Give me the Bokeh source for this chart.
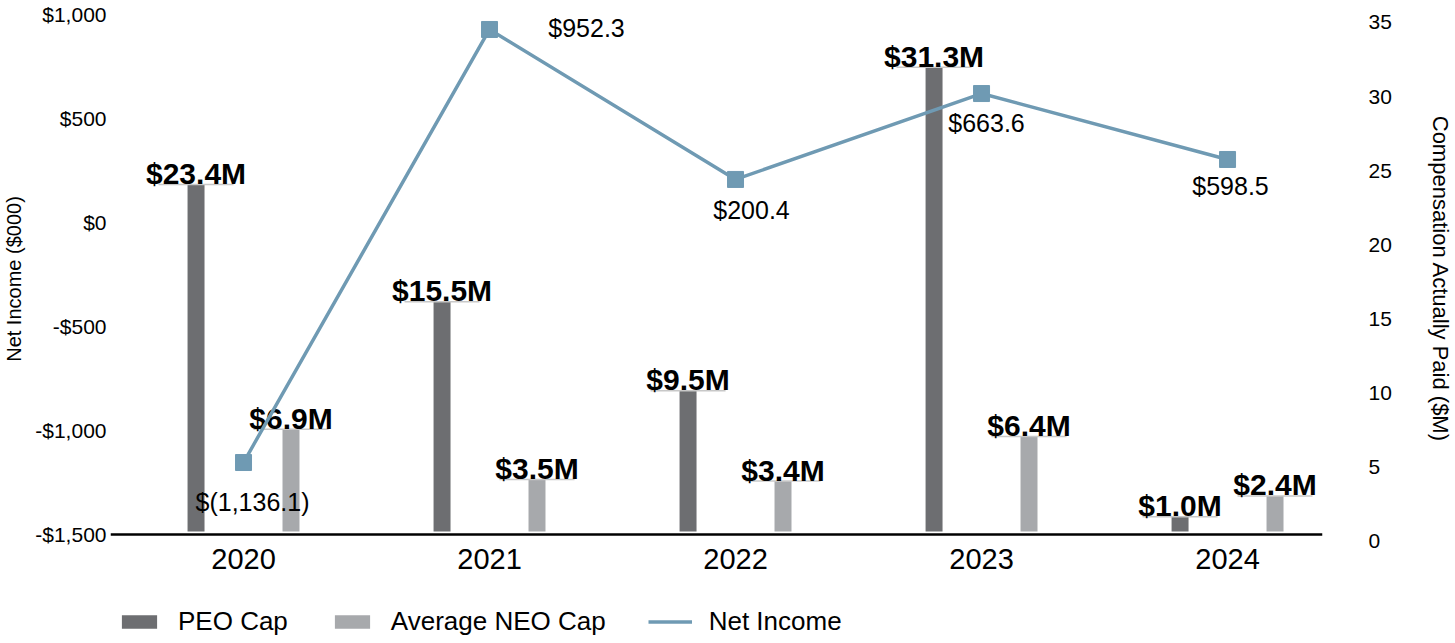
from bokeh.plotting import figure
from bokeh.layouts import column
from bokeh.models import (Range1d, LinearAxis, FixedTicker, Span, Legend,
                          LegendItem, ColumnDataSource)
from bokeh.core.properties import value
from bokeh.embed import file_html
from bokeh.resources import INLINE
import numpy as np

# ---------------- data ----------------
years = ["2020", "2021", "2022", "2023", "2024"]
peo_cap = [23.4, 15.5, 9.5, 31.3, 1.0]          # $M
neo_cap = [6.9, 3.5, 3.4, 6.4, 2.4]             # $M
net_income_labels = [-1136.1, 952.3, 200.4, 663.6, 598.5]   # $000, as labelled
net_income_drawn = [-1154, 928, 207, 620, 303]  # $000, marker heights as drawn in the reference
left_ticks = [-1500, -1000, -500, 0, 500, 1000]
left_tick_text = ["-$1,500", "-$1,000", "-$500", "$0", "$500", "$1,000"]
right_ticks = [0, 5, 10, 15, 20, 25, 30, 35]
series_names = ["PEO Cap", "Average NEO Cap", "Net Income"]

# ---------------- style ----------------
FONT = "Liberation Sans"
PEO_COLOR = "#6d6e71"
NEO_COLOR = "#a7a9ac"
LINE_COLOR = "#6f9ab3"
CAP_COLOR = "#c8c8c8"
BAR_W = 0.069
OFF = 0.193
CAP_W = 0.305
# label offsets (px) for the net income labels
ni_dx = [9, 97, 16, 5, 3]
ni_dy = [39, -1, 31, 29, 27]

x = np.arange(len(years))


def fmt_ni(v):
    return f"$({abs(v):,.1f})" if v < 0 else f"${v:,.1f}"


def no_ticks(ax):
    ax.axis_line_color = None
    ax.major_tick_line_color = None
    ax.minor_tick_line_color = None
    ax.major_tick_out = 0
    ax.major_tick_in = 0
    ax.minor_tick_out = 0
    ax.minor_tick_in = 0


p = figure(frame_width=1212, frame_height=533, output_backend="svg",
           toolbar_location=None,
           x_range=Range1d(-0.5407, 4.386), y_range=Range1d(-1552.9, 1009.6),
           min_border_left=110, min_border_right=133, min_border_top=12,
           min_border_bottom=48)
p.outline_line_color = None
p.xgrid.visible = False
p.ygrid.visible = False
p.background_fill_color = "white"

p.extra_y_ranges = {"bars": Range1d(-0.944, 35.0), "right": Range1d(-0.27, 35.67)}

# x axis (labels only); the baseline line is drawn as a span
xa = p.xaxis[0]
xa.ticker = FixedTicker(ticks=list(x))
xa.major_label_overrides = {int(i): y for i, y in zip(x, years)}
no_ticks(xa)
xa.major_label_standoff = 3
xa.major_label_text_font = FONT
xa.major_label_text_font_size = "29px"
xa.major_label_text_color = "black"

# left axis
ya = p.yaxis[0]
ya.ticker = FixedTicker(ticks=left_ticks)
ya.major_label_overrides = {t: s for t, s in zip(left_ticks, left_tick_text)}
no_ticks(ya)
ya.major_label_standoff = 4
ya.major_label_text_font = FONT
ya.major_label_text_font_size = "21px"
ya.major_label_text_color = "black"
ya.axis_label = "Net Income ($000)"
ya.axis_label_text_font = FONT
ya.axis_label_text_font_size = "20px"
ya.axis_label_text_font_style = "normal"
ya.axis_label_text_color = "black"
ya.axis_label_standoff = 7

# right axis
ra = LinearAxis(y_range_name="right", ticker=FixedTicker(ticks=right_ticks),
                axis_label="Compensation Actually Paid ($M)")
no_ticks(ra)
ra.major_label_standoff = 46
ra.major_label_text_font = FONT
ra.major_label_text_font_size = "21px"
ra.major_label_text_color = "black"
ra.axis_label_text_font = FONT
ra.axis_label_text_font_size = "22px"
ra.axis_label_text_font_style = "normal"
ra.axis_label_text_color = "black"
ra.axis_label_standoff = 33
p.add_layout(ra, "right")

# baseline
p.add_layout(Span(location=-1500, dimension="width", line_color="black", line_width=2.5))

# bars
src = ColumnDataSource(dict(
    xp=x - OFF, xn=x + OFF, peo=peo_cap, neo=neo_cap,
    peo_lbl=[f"${v:.1f}M" for v in peo_cap],
    neo_lbl=[f"${v:.1f}M" for v in neo_cap],
))
p.vbar(x="xp", top="peo", bottom=0, width=BAR_W, source=src,
       fill_color=PEO_COLOR, line_color=None, y_range_name="bars")
p.vbar(x="xn", top="neo", bottom=0, width=BAR_W, source=src,
       fill_color=NEO_COLOR, line_color=None, y_range_name="bars")
# caps
p.segment(x0=x - OFF - CAP_W / 2, x1=x - OFF + CAP_W / 2, y0=peo_cap, y1=peo_cap,
          line_color=CAP_COLOR, line_width=1.5, y_range_name="bars")
p.segment(x0=x + OFF - CAP_W / 2, x1=x + OFF + CAP_W / 2, y0=neo_cap, y1=neo_cap,
          line_color=CAP_COLOR, line_width=1.5, y_range_name="bars")
# bar labels
for col, xc in (("peo", "xp"), ("neo", "xn")):
    p.text(x=xc, y=col, text=col + "_lbl", source=src, y_range_name="bars",
           text_font=value(FONT), text_font_style="bold", text_font_size="30px",
           text_align="center", text_baseline="alphabetic", y_offset=-11,
           text_color="black")

# net income line
ni_src = ColumnDataSource(dict(x=x, y=net_income_drawn,
                               lbl=[fmt_ni(v) for v in net_income_labels],
                               dx=ni_dx, dy=ni_dy))
p.line("x", "y", source=ni_src, line_color=LINE_COLOR, line_width=3.5)
p.scatter("x", "y", source=ni_src, marker="square", size=16,
          fill_color=LINE_COLOR, line_color=LINE_COLOR)
p.text(x="x", y="y", text="lbl", source=ni_src, x_offset="dx", y_offset="dy",
       text_font=value(FONT), text_font_size="25px", text_align="center",
       text_baseline="middle", text_color="black")

# ---------------- legend strip ----------------
lg = figure(width=1455, height=50, output_backend="svg", toolbar_location=None,
            x_range=Range1d(0, 1), y_range=Range1d(0, 1),
            x_axis_location=None, y_axis_location=None,
            min_border_left=0, min_border_right=0, min_border_top=0,
            min_border_bottom=0)
lg.outline_line_color = None
lg.xgrid.visible = False
lg.ygrid.visible = False
# legend proxies: zero-size so only the legend shows them
proxy = ColumnDataSource(dict(x=[0.5], y=[0.0]))
lr_peo = lg.vbar(x="x", top="y", bottom=0, width=0.0, source=proxy,
                 fill_color=PEO_COLOR, line_color=None)
lr_neo = lg.vbar(x="x", top="y", bottom=0, width=0.0, source=proxy,
                 fill_color=NEO_COLOR, line_color=None)
lr_line = lg.line(x="x", y="y", source=proxy, line_color=LINE_COLOR, line_width=3.5)

legend = Legend(items=[LegendItem(label=series_names[0], renderers=[lr_peo]),
                       LegendItem(label=series_names[1], renderers=[lr_neo]),
                       LegendItem(label=series_names[2], renderers=[lr_line])],
                location=(7, 6), orientation="horizontal")
legend.glyph_width = 44
legend.glyph_height = 17
legend.label_standoff = 17
legend.spacing = 42
legend.padding = 0
legend.margin = 0
legend.border_line_color = None
legend.background_fill_alpha = 0
legend.label_text_font = FONT
legend.label_text_font_size = "26px"
legend.label_text_color = "black"
lg.add_layout(legend, "center")

layout = column(p, lg, spacing=0)
open("out.html", "w").write(file_html(layout, INLINE))
